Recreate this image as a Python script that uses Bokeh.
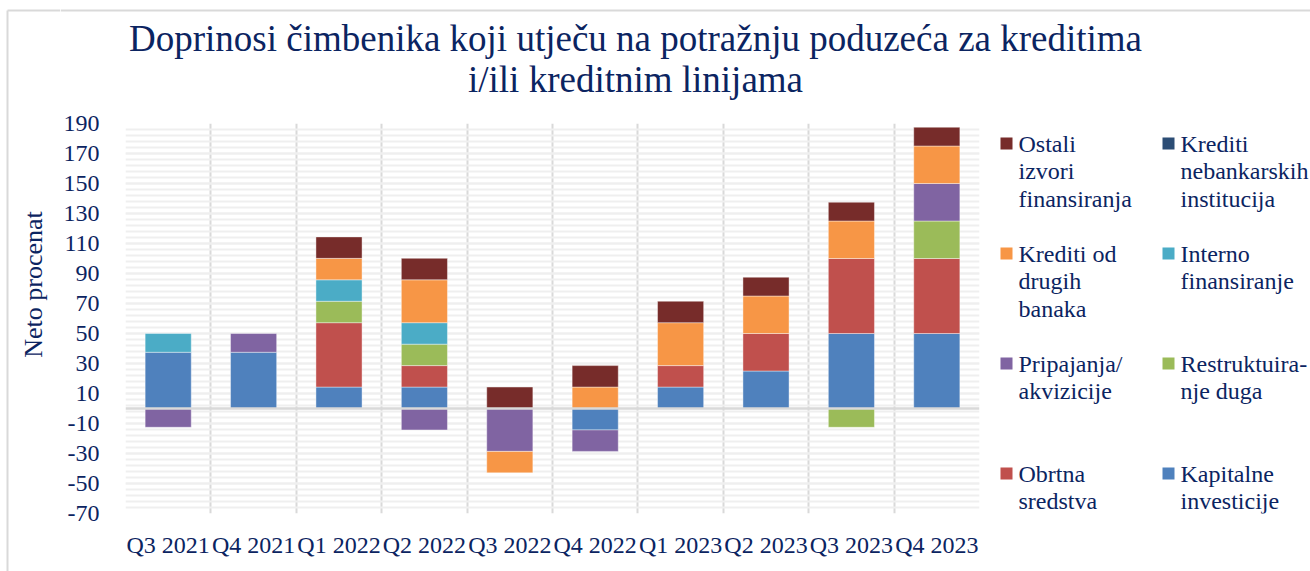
import numpy as np
from bokeh.plotting import figure
from bokeh.layouts import column, row
from bokeh.models import FixedTicker, Span, Range1d
from bokeh.core.properties import value
from bokeh.embed import file_html
from bokeh.resources import INLINE

# ---------------- data ----------------
quarters = ["Q3 2021", "Q4 2021", "Q1 2022", "Q2 2022", "Q3 2022",
            "Q4 2022", "Q1 2023", "Q2 2023", "Q3 2023", "Q4 2023"]

kapitalne_investicije = [37.5, 37.5, 14.3, 14.3, 0.0, -14.3, 14.3, 25.0, 50.0, 50.0]
obrtna_sredstva = [0.0, 0.0, 42.9, 14.3, 0.0, 0.0, 14.3, 25.0, 50.0, 50.0]
restrukturiranje_duga = [0.0, 0.0, 14.3, 14.3, 0.0, 0.0, 0.0, 0.0, -12.5, 25.0]
pripajanja_akvizicije = [-12.5, 12.5, 0.0, -14.3, -28.6, -14.3, 0.0, 0.0, 0.0, 25.0]
interno_finansiranje = [12.5, 0.0, 14.3, 14.3, 0.0, 0.0, 0.0, 0.0, 0.0, 0.0]
krediti_drugih_banaka = [0.0, 0.0, 14.3, 28.6, -14.3, 14.3, 28.6, 25.0, 25.0, 25.0]
krediti_nebankarskih = [0.0, 0.0, 0.0, 0.0, 0.0, 0.0, 0.0, 0.0, 0.0, 0.0]
ostali_izvori = [0.0, 0.0, 14.3, 14.3, 14.3, 14.3, 14.3, 12.5, 12.5, 12.5]

series_names = ["Kapitalne investicije", "Obrtna sredstva", "Restrukturiranje duga",
                "Pripajanja/akvizicije", "Interno finansiranje",
                "Krediti od drugih banaka", "Krediti nebankarskih institucija",
                "Ostali izvori finansiranja"]
series_values = [kapitalne_investicije, obrtna_sredstva, restrukturiranje_duga,
                 pripajanja_akvizicije, interno_finansiranje, krediti_drugih_banaka,
                 krediti_nebankarskih, ostali_izvori]
series_colors = ["#4F81BD", "#C0504D", "#9BBB59", "#8064A2",
                 "#4BACC6", "#F79646", "#2C4D75", "#772C2A"]

# legend (reading order, two columns) with its wrapped label lines
legend_order = [7, 6, 5, 4, 3, 2, 1, 0]
legend_lines = {
    7: ["Ostali", "izvori", "finansiranja"],
    6: ["Krediti", "nebankarskih", "institucija"],
    5: ["Krediti od", "drugih", "banaka"],
    4: ["Interno", "finansiranje"],
    3: ["Pripajanja/", "akvizicije"],
    2: ["Restruktuira-", "nje duga"],
    1: ["Obrtna", "sredstva"],
    0: ["Kapitalne", "investicije"],
}

title_lines = ["Doprinosi čimbenika koji utječu na potražnju poduzeća za kreditima",
               "i/ili kreditnim linijama"]
y_title = "Neto procenat"
y_ticks = list(range(-70, 191, 20))
y_minor = list(range(-70, 191, 4))

# ---------------- layout ----------------
W, H = 1310, 571
TOP_H = 100          # height of the title strip
STRIP_W = 60         # left strip (border line + y-axis title)
L, R, T, B = 125, 979, 123, 513   # plot frame in page pixels
Y0, Y1 = -70, 190
N = len(quarters)
TXT = "#0B2461"
FONT = "Liberation Serif"
BORDER = "#D9D9D9"


def blank(w, h, x0, x1, y0, y1, **kw):
    f = figure(width=w, height=h, x_range=Range1d(x0, x1), y_range=Range1d(y0, y1),
               output_backend="svg", toolbar_location=None, title=None,
               x_axis_type=None, y_axis_type=None,
               min_border_left=0, min_border_right=0,
               min_border_top=kw.get("top", 0), min_border_bottom=kw.get("bottom", 0))
    f.outline_line_color = None
    f.xgrid.visible = False
    f.ygrid.visible = False
    f.background_fill_color = "white"
    f.border_fill_color = "white"
    return f


# ---- left strip, full height (page pixel coordinates) ----
ps = blank(STRIP_W, H, 0, STRIP_W, H, 0)
ps.segment(x0=[7, 7], y0=[10, 10], x1=[STRIP_W, 7], y1=[10, H],
           line_color=BORDER, line_width=2)
ps.text(x=[33], y=[284], text=[y_title], angle=np.pi / 2, text_align="center",
        text_baseline="middle", text_font=value(FONT),
        text_font_size=value("26px"), text_color=TXT)

# ---- title strip ----
pt = blank(W - STRIP_W, TOP_H, STRIP_W, W, TOP_H, 0)
pt.segment(x0=[STRIP_W], y0=[10], x1=[W], y1=[10], line_color=BORDER, line_width=2)
pt.text(x=[635, 635], y=[37.5, 78.5], text=title_lines, text_align="center",
        text_baseline="middle", text_font=value(FONT),
        text_font_size=value("37px"), text_color=TXT)

# ---- main chart ----
MW = R + 1 - STRIP_W
p = figure(width=MW, height=H - TOP_H, x_range=Range1d(0, N), y_range=Range1d(Y0, Y1),
           output_backend="svg", toolbar_location=None, title=None,
           min_border_left=L - STRIP_W, min_border_right=1,
           min_border_top=T - TOP_H, min_border_bottom=H - B)
p.outline_line_color = None
p.background_fill_color = "white"
p.border_fill_color = "white"

xs = np.arange(N) + 0.5

p.xgrid.ticker = FixedTicker(ticks=list(range(N + 1)))
p.xgrid.grid_line_color = BORDER
p.xgrid.grid_line_width = 2
p.ygrid.grid_line_color = "#EFEFEF"
p.ygrid.grid_line_width = 2
p.ygrid.minor_grid_line_color = "#EFEFEF"
p.ygrid.minor_grid_line_width = 2

p.xaxis.ticker = FixedTicker(ticks=list(xs))
p.xaxis.major_label_overrides = {float(x): q for x, q in zip(xs, quarters)}
p.yaxis.ticker = FixedTicker(ticks=y_ticks, minor_ticks=y_minor)
p.yaxis.major_label_overrides = {t: str(t) for t in y_ticks}
for ax in (p.xaxis[0], p.yaxis[0]):
    ax.axis_line_color = None
    ax.major_tick_line_color = None
    ax.minor_tick_line_color = None
    ax.major_label_text_font = FONT
    ax.major_label_text_font_size = "24px"
    ax.major_label_text_color = TXT
p.xaxis.major_label_standoff = 12
p.yaxis.major_label_standoff = 20

pos = np.zeros(N)
neg = np.zeros(N)
for vals, color in zip(series_values, series_colors):
    v = np.array(vals, dtype=float)
    bottom = np.where(v >= 0, pos, neg)
    top = bottom + v
    pos = np.where(v > 0, top, pos)
    neg = np.where(v < 0, top, neg)
    m = v != 0
    if m.any():
        p.vbar(x=xs[m], bottom=bottom[m], top=top[m], width=0.54,
               fill_color=color, line_color="white", line_alpha=0.5, line_width=0.8)

p.add_layout(Span(location=0, dimension="width", line_color=BORDER, line_width=2.5))

# ---- legend strip: frame matches the main frame vertically (page y 123..513) ----
pl = blank(W - (R + 1), H - TOP_H, R + 1, W, B, T, top=T - TOP_H, bottom=H - B)
col_x = [1000, 1162]
row_y = [143, 253, 363, 473]
sq_x, sq_y, sq_c = [], [], []
tx, ty, tt = [], [], []
for k, si in enumerate(legend_order):
    cx = col_x[k % 2]
    ry = row_y[k // 2]
    sq_x.append(cx + 6)
    sq_y.append(ry)
    sq_c.append(series_colors[si])
    for j, line in enumerate(legend_lines[si]):
        tx.append(cx + 18)
        ty.append(ry + j * 27.7)
        tt.append(line)
pl.rect(x=sq_x, y=sq_y, width=12, height=12, fill_color=sq_c, line_color=None)
pl.text(x=tx, y=ty, text=tt, text_align="left", text_baseline="middle",
        text_font=value(FONT), text_font_size=value("24px"), text_color=TXT)

layout = row(ps, column(pt, row(p, pl, spacing=0), spacing=0), spacing=0)
open("out.html", "w").write(file_html(layout, INLINE))
